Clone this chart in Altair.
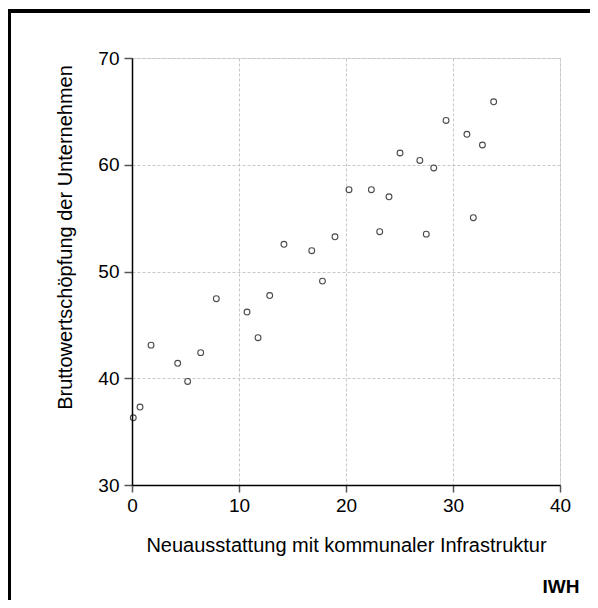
import altair as alt
import pandas as pd

x_vals = [0.12, 0.75, 1.78, 4.27, 5.2, 6.42, 7.88, 10.75, 11.78, 12.87, 14.2, 16.8, 17.8, 18.97,
          20.28, 22.37, 23.15, 24.02, 25.05, 26.9, 27.5, 28.2, 29.35, 31.3, 31.9, 32.75, 33.8]
y_vals = [36.3, 37.3, 43.1, 41.4, 39.7, 42.4, 47.45, 46.2, 43.8, 47.75, 52.55, 51.95, 49.1, 53.25,
          57.66, 57.66, 53.73, 57.0, 61.1, 60.4, 53.5, 59.7, 64.15, 62.85, 55.04, 61.85, 65.9]

x_title = "Neuausstattung mit kommunaler Infrastruktur"
y_title = "Bruttowertschöpfung der Unternehmen"
source_label = "IWH"

df = pd.DataFrame({"x": x_vals, "y": y_vals})

FONT = "Liberation Sans"

points = alt.Chart(df).mark_point(
    shape="circle", filled=False, stroke="black", strokeWidth=1.1, size=34
).encode(
    x=alt.X("x:Q", scale=alt.Scale(domain=[0, 40], nice=False, zero=False),
            axis=alt.Axis(title=x_title, values=[0, 10, 20, 30, 40], grid=True,
                          gridColor="#c8c8c8", gridDash=[3, 2], gridWidth=1,
                          domainColor="black", domainWidth=1.5,
                          tickColor="#555555", tickSize=7, tickWidth=1.5,
                          labelFlush=False,
                          labelFont=FONT, labelFontSize=19, labelColor="black", labelPadding=4,
                          titleFont=FONT, titleFontSize=20, titleFontWeight="normal",
                          titleColor="black", titlePadding=20)),
    y=alt.Y("y:Q", scale=alt.Scale(domain=[30, 70], nice=False, zero=False),
            axis=alt.Axis(title=y_title, values=[30, 40, 50, 60, 70], grid=True,
                          gridColor="#c8c8c8", gridDash=[3, 2], gridWidth=1,
                          domainColor="black", domainWidth=1.5,
                          tickColor="#555555", tickSize=8, tickWidth=1.5,
                          labelFlush=False,
                          labelFont=FONT, labelFontSize=19, labelColor="black", labelPadding=5,
                          titleFont=FONT, titleFontSize=20, titleFontWeight="normal",
                          titleColor="black", titlePadding=22,
                          titleY=179, titleAlign="center", titleAngle=270)),
)

border = alt.Chart(df).mark_rect(
    fill=None, fillOpacity=0, stroke="black", strokeWidth=2.5, clip=False
).encode(
    x=alt.value(-123), x2=alt.value(700), y=alt.value(-47), y2=alt.value(800)
)

iwh = alt.Chart(pd.DataFrame({"t": [source_label]})).mark_text(
    font=FONT, fontSize=19, fontWeight="bold", color="black", align="center",
    baseline="alphabetic", clip=False
).encode(x=alt.value(429), y=alt.value(535), text="t:N")

chart = alt.layer(border, points, iwh).properties(
    width=428, height=427,
    autosize=alt.AutoSizeParams(type="none"),
    padding={"left": 124, "top": 50, "right": 30, "bottom": 115},
).configure_view(stroke="black", strokeWidth=1.5).configure(background="white")

chart.save("out.html", embed_options={"renderer": "svg", "actions": False})
